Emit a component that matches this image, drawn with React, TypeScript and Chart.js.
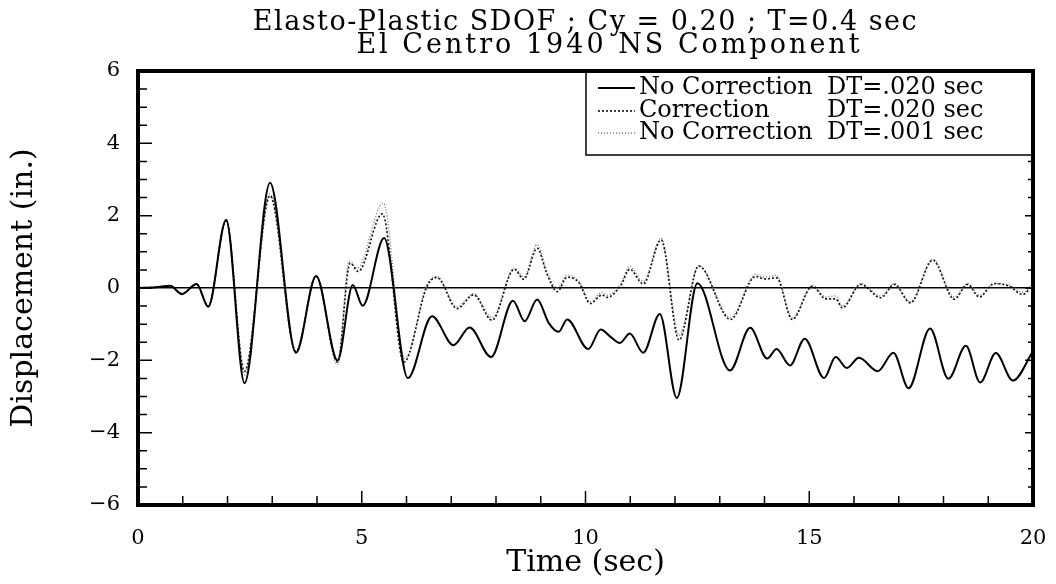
import { useEffect, useRef } from "react";
import { Chart, registerables } from "chart.js";

Chart.register(...registerables);

// ---------- data ----------
const titleLines = ["Elasto-Plastic SDOF ; Cy = 0.20 ; T=0.4 sec", "El Centro 1940 NS Component"];
const xAxisTitle = "Time (sec)";
const yAxisTitle = "Displacement (in.)";
const xTickValues = [0, 5, 10, 15, 20];
const yTickValues = [-6, -4, -2, 0, 2, 4, 6];

const seriesLabels = [
  "No Correction DT=.020 sec",
  "Correction DT=.020 sec",
  "No Correction DT=.001 sec",
];

// No Correction, DT = .020 sec
const noCorr020Time = [
  0, 0.4, 0.72, 0.98, 1.31, 1.57, 1.97, 2.38, 2.95, 3.53, 3.98, 4.46, 4.8, 5.02, 5.5, 6.03,
  6.57, 7.05, 7.41, 7.89, 8.38, 8.64, 8.92, 9.18, 9.4, 9.59, 10.06, 10.34, 10.56, 10.77, 10.99,
  11.29, 11.66, 12.04, 12.5, 13.23, 13.68, 14.06, 14.27, 14.57, 14.9, 15.33, 15.59, 15.84,
  16.11, 16.53, 16.88, 17.22, 17.7, 18.11, 18.5, 18.82, 19.17, 19.55, 20.0,
];
const noCorr020Disp = [
  0, 0.02, 0.06, -0.17, 0.11, -0.52, 1.89, -2.63, 2.91, -1.79, 0.33, -2.0, 0.08, -0.49, 1.38, -2.49,
  -0.78, -1.58, -1.09, -1.91, -0.35, -0.92, -0.32, -0.97, -1.21, -0.87, -1.69, -1.15, -1.35, -1.52, -1.26,
  -1.79, -0.72, -3.04, 0.13, -2.28, -1.1, -1.95, -1.69, -2.14, -1.4, -2.49, -1.91, -2.21,
  -1.93, -2.3, -1.79, -2.77, -1.12, -2.51, -1.6, -2.61, -1.8, -2.56, -1.75,
];

// Correction, DT = .020 sec
const corr020Time = [
  0, 0.4, 0.72, 0.98, 1.31, 1.57, 1.97, 2.38, 2.95, 3.53, 3.98, 4.46, 4.74, 4.92, 5.46, 5.94,
  6.46, 6.68, 7.13, 7.5, 7.91, 8.41, 8.62, 8.92, 9.14, 9.37, 9.59, 9.85, 10.11, 10.37, 10.48,
  10.78, 10.99, 11.29, 11.69, 12.09, 12.53, 13.24, 13.8, 14.0, 14.27, 14.62, 15.07, 15.37, 15.59,
  15.74, 16.15, 16.6, 16.9, 17.26, 17.76, 18.24, 18.54, 18.8, 19.13, 19.47, 19.77, 20.0,
];
const corr020Disp = [
  0, 0.02, 0.05, -0.15, 0.1, -0.5, 1.85, -2.3, 2.55, -1.75, 0.32, -2.05, 0.69, 0.46, 2.05, -2.05,
  0.05, 0.29, -0.57, -0.19, -0.89, 0.52, 0.24, 1.1, 0.38, -0.1, 0.3, 0.15, -0.43, -0.19, -0.26,
  0.05, 0.52, 0.11, 1.33, -1.44, 0.61, -0.87, 0.32, 0.25, 0.28, -0.87, 0.05, -0.3, -0.3,
  -0.55, 0.1, -0.27, 0.1, -0.41, 0.77, -0.31, 0.1, -0.25, 0.12, 0.05, -0.18, 0.1,
];

// No Correction, DT = .001 sec
const noCorr001Time = [
  0, 0.4, 0.72, 0.98, 1.31, 1.57, 1.97, 2.38, 2.95, 3.53, 3.98, 4.46, 4.72, 4.9, 5.48, 5.96,
  6.46, 6.68, 7.13, 7.5, 7.91, 8.41, 8.62, 8.92, 9.14, 9.37, 9.59, 9.85, 10.11, 10.37, 10.48,
  10.78, 10.99, 11.29, 11.69, 12.09, 12.53, 13.24, 13.8, 14.0, 14.27, 14.62, 15.07, 15.37, 15.59,
  15.74, 16.15, 16.6, 16.9, 17.26, 17.76, 18.24, 18.54, 18.8, 19.13, 19.47, 19.77, 20.0,
];
const noCorr001Disp = [
  0, 0.02, 0.06, -0.16, 0.1, -0.52, 1.88, -2.4, 2.6, -1.8, 0.33, -2.12, 0.75, 0.55, 2.35, -1.95,
  0.1, 0.32, -0.52, -0.15, -0.82, 0.55, 0.3, 1.2, 0.45, 0.0, 0.35, 0.2, -0.38, -0.12, -0.2,
  0.1, 0.6, 0.18, 1.38, -1.3, 0.62, -0.82, 0.38, 0.3, 0.35, -0.82, 0.08, -0.25, -0.22,
  -0.5, 0.12, -0.22, 0.12, -0.38, 0.8, -0.25, 0.12, -0.2, 0.12, 0.08, -0.12, 0.12,
];

const FONT = "'DejaVu Serif', 'Liberation Serif', serif";

const toPoints = (t: number[], v: number[]) => t.map((x, i) => ({ x, y: v[i] }));

const framePlugin = {
  id: "frameTicksLegend",
  afterDraw(chart: any) {
    const { ctx, chartArea } = chart;
    const { left, right, top, bottom } = chartArea;
    const xs = chart.scales.x;
    const ys = chart.scales.y;
    ctx.save();

    // title (two centred lines above the plot)
    const cx = (left + right) / 2;
    ctx.fillStyle = "#000";
    ctx.textBaseline = "alphabetic";
    ctx.textAlign = "center";
    ctx.font = `27px ${FONT}`;
    (ctx as any).letterSpacing = "1.5px";
    ctx.fillText(titleLines[0], cx, top - 41);
    (ctx as any).letterSpacing = "3px";
    ctx.fillText(titleLines[1], cx + 24, top - 18);
    (ctx as any).letterSpacing = "0px";

    // inward ticks
    ctx.strokeStyle = "#000";
    ctx.lineWidth = 1.5;
    ctx.beginPath();
    for (let k = 0; k <= 24; k++) {
      const v = -6 + k * 0.5;
      const py = ys.getPixelForValue(v);
      const major = k % 4 === 0;
      ctx.moveTo(left, py);
      ctx.lineTo(left + (major ? 14 : 9), py);
      ctx.moveTo(right, py);
      ctx.lineTo(right - (major ? 8 : 5), py);
    }
    for (let t = 0; t <= 20; t++) {
      const px = xs.getPixelForValue(t);
      const major = t % 5 === 0;
      ctx.moveTo(px, bottom);
      ctx.lineTo(px, bottom - (major ? 14 : 9));
    }
    ctx.stroke();

    // legend box
    const lx = right - 447;
    const lb = top + 84;
    ctx.fillStyle = "#fff";
    ctx.fillRect(lx, top, right - lx, lb - top);
    ctx.lineWidth = 1.5;
    ctx.strokeRect(lx, top, right - lx, lb - top);
    const rowsY = [top + 17, top + 40, top + 62];
    ctx.font = `24px ${FONT}`;
    ctx.textBaseline = "middle";
    ctx.textAlign = "left";
    chart.data.datasets.forEach((ds: any, i: number) => {
      const ry = rowsY[i];
      ctx.save();
      ctx.strokeStyle = ds.borderColor;
      ctx.lineWidth = ds.borderWidth;
      ctx.setLineDash(ds.borderDash || []);
      ctx.beginPath();
      ctx.moveTo(lx + 12, ry);
      ctx.lineTo(lx + 49, ry);
      ctx.stroke();
      ctx.restore();
      const label: string = ds.label;
      const idx = label.indexOf(" DT=");
      ctx.fillStyle = "#000";
      ctx.fillText(label.slice(0, idx), lx + 53, ry);
      ctx.fillText(label.slice(idx + 1), lx + 241, ry);
    });

    // frame
    ctx.lineWidth = 4;
    ctx.strokeRect(left, top, right - left, bottom - top);
    ctx.restore();
  },
};

export default function App() {
  const ref = useRef<HTMLCanvasElement | null>(null);
  useEffect(() => {
    if (!ref.current) return;
    const chart = new Chart(ref.current, {
      type: "line",
      data: {
        datasets: [
          {
            label: seriesLabels[0],
            data: toPoints(noCorr020Time, noCorr020Disp),
            borderColor: "#000",
            borderWidth: 2,
            pointRadius: 0,
            cubicInterpolationMode: "monotone",
            fill: false,
          },
          {
            label: seriesLabels[1],
            data: toPoints(corr020Time, corr020Disp),
            borderColor: "#111",
            borderWidth: 1.6,
            borderDash: [2, 2],
            pointRadius: 0,
            cubicInterpolationMode: "monotone",
            fill: false,
          },
          {
            label: seriesLabels[2],
            data: toPoints(noCorr001Time, noCorr001Disp),
            borderColor: "#777",
            borderWidth: 1.4,
            borderDash: [1, 2],
            pointRadius: 0,
            cubicInterpolationMode: "monotone",
            fill: false,
          },
        ],
      },
      options: {
        animation: false,
        responsive: false,
        maintainAspectRatio: false,
        devicePixelRatio: 1,
        layout: { padding: { left: 0, right: 23, top: 71, bottom: 0 } },
        plugins: {
          legend: { display: false },
          tooltip: { enabled: false },
          title: { display: false },
        },
        scales: {
          x: {
            type: "linear",
            min: 0,
            max: 20,
            afterBuildTicks: (s: any) => {
              s.ticks = xTickValues.map((value) => ({ value }));
            },
            afterFit: (s: any) => {
              s.height = 79;
              s.paddingLeft = 0;
              s.paddingRight = 0;
            },
            ticks: {
              color: "#000",
              font: { family: FONT, size: 21 },
              padding: 21,
              maxRotation: 0,
            },
            grid: { display: false, drawTicks: false },
            border: { display: false },
            title: {
              display: true,
              text: xAxisTitle,
              color: "#000",
              font: { family: FONT, size: 30 },
              padding: { top: 0, bottom: 3 },
            },
          },
          y: {
            type: "linear",
            min: -6,
            max: 6,
            afterBuildTicks: (s: any) => {
              s.ticks = yTickValues.map((value) => ({ value }));
            },
            afterFit: (s: any) => {
              s.width = 138;
              s.paddingTop = 0;
              s.paddingBottom = 0;
            },
            ticks: {
              color: "#000",
              font: { family: FONT, size: 21 },
              padding: 18,
              callback: (v: any) => (Number(v) < 0 ? "\u2212" + Math.abs(Number(v)) : String(v)),
            },
            grid: {
              drawTicks: false,
              lineWidth: 1.5,
              color: (c: any) => (c.tick && c.tick.value === 0 ? "#000" : "rgba(0,0,0,0)"),
            },
            border: { display: false },
            title: {
              display: true,
              text: yAxisTitle,
              color: "#000",
              font: { family: FONT, size: 30 },
              padding: { top: 6, bottom: 0 },
            },
          },
        },
      },
      plugins: [framePlugin],
    });
    return () => chart.destroy();
  }, []);

  return (
    <div style={{ position: "fixed", left: 0, top: 0, width: 1056, height: 584, background: "#fff" }}>
      <canvas ref={ref} width={1056} height={584} style={{ display: "block", width: 1056, height: 584 }} />
    </div>
  );
}
